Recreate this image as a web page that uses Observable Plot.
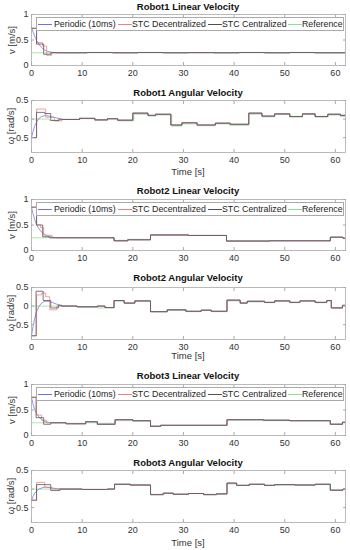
<!DOCTYPE html>
<html><head><meta charset="utf-8">
<script src="https://cdn.jsdelivr.net/npm/d3@7"></script>
<script src="https://cdn.jsdelivr.net/npm/@observablehq/plot@0.6"></script>
<style>
body{margin:0;background:#fff;font-family:"Liberation Sans",Arial,sans-serif;}
#wrap{position:relative;width:350px;height:550px;overflow:hidden;background:#fff;}
.panel{position:absolute;left:0;}
.title{position:absolute;left:31px;width:314px;text-align:center;font-weight:bold;font-size:9.5px;line-height:10px;color:#111;}
.xlab{position:absolute;left:31px;width:314px;text-align:center;font-size:9.5px;line-height:10px;color:#333;}
.ylab{position:absolute;width:80px;height:10px;line-height:10px;text-align:center;font-size:9.5px;color:#333;transform:rotate(-90deg);}
.legend{position:absolute;left:36px;width:306px;height:12px;border:0.8px solid #aaa;background:#fff;font-size:8.8px;color:#222;}
.legend .ln{position:absolute;top:6px;width:14px;height:0;border-top:1px solid;}
.legend .tx{position:absolute;top:0px;line-height:12px;white-space:nowrap;}
</style>
</head><body><div id="wrap"></div>
<script>
const xTicks = [0, 10, 20, 30, 40, 50, 60];
const linTicks = [0, 0.5, 1];
const angTicks = [-0.5, 0, 0.5];
const seriesNames = ["Periodic (10ms)", "STC Decentralized", "STC Centralized", "Reference"];
const seriesColors = ["#7070ea", "#f08080", "#505050", "#8ee08e"];
const titles = ["Robot1 Linear Velocity", "Robot1 Angular Velocity", "Robot2 Linear Velocity", "Robot2 Angular Velocity", "Robot3 Linear Velocity", "Robot3 Angular Velocity"];

// Robot1 linear
const r1v_perT = [0,0.3,0.6,1,1.5,2,2.5,3,3.5,4,5];
const r1v_perV = [0.75,0.66,0.58,0.49,0.41,0.35,0.31,0.285,0.27,0.26,0.252];
const r1v_decT = [0,1,2.2,3,4];
const r1v_decV = [0.73,0.45,0.38,0.2,0.25];
const r1v_cenT = [0,1,2.4,3.8];
const r1v_cenV = [0.73,0.42,0.22,0.25];
const r1v_tailT = [6,11,16,21,26,31,36,41,46,51,56];
const r1v_tailV = [0.25,0.255,0.25,0.255,0.25,0.253,0.25,0.255,0.25,0.255,0.25];
const r1v_refT = [0];
const r1v_refV = [0.25];

// Robot1 angular
const r1w_perT = [0,0.3,0.6,1,1.5,2,2.5,3,3.5,4,5,5.8];
const r1w_perV = [-0.5,-0.33,-0.2,-0.08,0.02,0.07,0.09,0.09,0.08,0.06,0.03,0.0];
const r1w_decT = [0,1,2.8,4.5];
const r1w_decV = [-0.5,0.27,0.05,-0.05];
const r1w_cenT = [0,1,2.6,3.8,5.4];
const r1w_cenV = [-0.5,0.18,0.15,-0.04,0.0];
const r1w_tailT = [6,9.5,12.5,15,17,20,23,24.5,27.5,29.7,32.7,36.3,39.2,42.9,45.5,48,51,53.5,56,58.5,61];
const r1w_tailV = [-0.01,0.02,-0.02,0.01,-0.03,0.16,0.1,0.13,-0.16,-0.1,-0.16,-0.11,-0.14,0.16,0.08,0.14,0.07,0.14,0.07,0.13,0.1];
const r1w_refT = [0,3.5,6,9.5,12.5,15,17,20.2,23,24.5,27.7,29.7,32.7,36.3,39.2,42.9,45.5,48,51,53.5,56,58.5,61];
const r1w_refV = [0,-0.03,-0.01,0.01,-0.04,0.0,-0.05,0.13,0.08,0.11,-0.19,-0.13,-0.18,-0.13,-0.17,0.13,0.06,0.12,0.05,0.12,0.05,0.11,0.07];

// Robot2 linear
const r2v_perT = [0,0.3,0.6,1,1.5,2,2.5,3,3.5,4,4.5];
const r2v_perV = [0.85,0.72,0.62,0.5,0.42,0.36,0.32,0.29,0.275,0.265,0.257];
const r2v_decT = [0,1,1.8,2.4,4];
const r2v_decV = [0.85,0.5,0.45,0.3,0.25];
const r2v_cenT = [0,1,2.2,3.5];
const r2v_cenV = [0.85,0.5,0.27,0.25];
const r2v_tailT = [5,16.3,19,23.5,31,38.5,47,59,61.5];
const r2v_tailV = [0.25,0.19,0.21,0.305,0.295,0.185,0.19,0.26,0.24];
const r2v_refT = [0,16.3,19,23.5,31,38.5,47,59,61.5];
const r2v_refV = [0.25,0.2,0.22,0.3,0.295,0.19,0.195,0.265,0.245];

// Robot2 angular
const r2w_perT = [0,0.3,0.6,1,1.5,2,2.5,3,3.5,4,5,5.8];
const r2w_perV = [-0.8,-0.55,-0.35,-0.15,0.0,0.08,0.12,0.13,0.12,0.1,0.05,0.02];
const r2w_decT = [0,1,2,2.8,3.6,5];
const r2w_decV = [-0.8,0.3,0.35,0.25,-0.1,0];
const r2w_cenT = [0,0.9,2.3,3.8,5.3];
const r2w_cenV = [-0.8,0.4,0.15,-0.05,0.02];
const r2w_tailT = [6,9,13,14.5,16.3,18.3,20.4,23.5,26.8,30.5,33.5,35.5,38.6,41.2,42.6,46,48,51,53,56,58.3,59.2,61.4];
const r2w_tailV = [0,-0.02,0.0,-0.04,0.15,0.08,0.14,-0.15,-0.1,-0.14,-0.11,-0.14,0.16,0.08,0.13,0.1,0.14,0.1,0.14,0.1,0.15,-0.05,0.02];
const r2w_refT = [0,9,13,16.3,18.3,20.4,23.5,26.8,30.5,33.5,35.5,38.6,41.2,42.6,46,48,51,53,56,58.3,59.2,61.4];
const r2w_refV = [0,-0.02,-0.05,0.13,0.08,0.12,-0.16,-0.12,-0.15,-0.12,-0.15,0.14,0.09,0.11,0.09,0.12,0.09,0.12,0.09,0.13,-0.04,0.01];

// Robot3 linear
const r3v_perT = [0,0.3,0.6,1,1.5,2,2.5,3,3.5,4,4.5];
const r3v_perV = [0.75,0.62,0.52,0.43,0.36,0.31,0.28,0.265,0.255,0.25,0.25];
const r3v_decT = [0,1,2,3,4.2];
const r3v_decV = [0.75,0.4,0.3,0.25,0.25];
const r3v_cenT = [0,0.9,2.4,3.8];
const r3v_cenV = [0.75,0.35,0.22,0.25];
const r3v_tailT = [5,6.8,10.7,13,16.5,20,23.5,25.5,38.6,45.8,51,59,61.4];
const r3v_tailV = [0.25,0.23,0.27,0.22,0.31,0.29,0.18,0.2,0.31,0.3,0.29,0.22,0.26];
const r3v_refT = [0,6.8,10.7,13,16.5,20,23.5,25.5,38.6,45.8,51,59,61.4];
const r3v_refV = [0.25,0.24,0.25,0.24,0.29,0.28,0.19,0.2,0.3,0.29,0.29,0.23,0.25];

// Robot3 angular
const r3w_perT = [0,0.3,0.6,1,1.5,2,2.5,3,3.5,4,5,5.8];
const r3w_perV = [-0.3,-0.2,-0.12,-0.05,0,0.03,0.05,0.05,0.04,0.03,0.01,0];
const r3w_decT = [0,1,2.6,4];
const r3w_decV = [-0.3,0.18,0.05,0];
const r3w_cenT = [0,1,3.8,5.6];
const r3w_cenV = [-0.3,0.12,-0.04,0];
const r3w_tailT = [6,10,15,16.4,19.5,23.5,26,28,31,34,36.5,38.6,40.5,43,46,48,52,56,59,61.5];
const r3w_tailV = [0,-0.01,0,0.13,0.11,-0.15,-0.11,-0.14,-0.12,-0.15,-0.13,0.16,0.1,0.13,0.1,0.12,0.11,0.13,-0.03,0.0];
const r3w_refT = [0,10,15,16.4,19.5,23.5,26,28,31,34,36.5,38.6,40.5,43,46,48,52,56,59,61.5];
const r3w_refV = [0,-0.01,0,0.12,0.1,-0.14,-0.12,-0.13,-0.12,-0.14,-0.13,0.14,0.1,0.12,0.1,0.11,0.1,0.12,-0.03,0.0];

const T_END = 62;

function stepPts(T, V, tEnd) {
  const pts = [];
  for (let i = 0; i < T.length; i++) {
    const t1 = i + 1 < T.length ? T[i + 1] : tEnd;
    pts.push({t: T[i], v: V[i]});
    pts.push({t: t1, v: V[i]});
  }
  return pts;
}
function smoothPts(T, V) { return T.map((t, i) => ({t, v: V[i]})); }

function buildPanel(p) {
  const per = smoothPts(p.perT, p.perV).concat(stepPts(p.tailT, p.tailV, T_END));
  const dec = stepPts(p.decT.concat(p.tailT), p.decV.concat(p.tailV), T_END);
  const cen = stepPts(p.cenT.concat(p.tailT), p.cenV.concat(p.tailV), T_END);
  const ref = stepPts(p.refT, p.refV, T_END);
  return [ref, per, dec, cen];
}

const panels = [
  {top: 14, h: 51, dom: [0, 1], ticks: linTicks, ylab: "v [m/s]", legend: true, xlab: null, titleY: 7,
   perT: r1v_perT, perV: r1v_perV, decT: r1v_decT, decV: r1v_decV, cenT: r1v_cenT, cenV: r1v_cenV, tailT: r1v_tailT, tailV: r1v_tailV, refT: r1v_refT, refV: r1v_refV},
  {top: 100, h: 52, dom: [-0.9, 0.5], ticks: angTicks, ylab: "\u03c9 [rad/s]", legend: false, xlab: 172, titleY: 93,
   perT: r1w_perT, perV: r1w_perV, decT: r1w_decT, decV: r1w_decV, cenT: r1w_cenT, cenV: r1w_cenV, tailT: r1w_tailT, tailV: r1w_tailV, refT: r1w_refT, refV: r1w_refV},
  {top: 199, h: 51, dom: [0, 1], ticks: linTicks, ylab: "v [m/s]", legend: true, xlab: null, titleY: 191,
   perT: r2v_perT, perV: r2v_perV, decT: r2v_decT, decV: r2v_decV, cenT: r2v_cenT, cenV: r2v_cenV, tailT: r2v_tailT, tailV: r2v_tailV, refT: r2v_refT, refV: r2v_refV},
  {top: 286.5, h: 52, dom: [-0.9, 0.5], ticks: angTicks, ylab: "\u03c9 [rad/s]", legend: false, xlab: 356, titleY: 278,
   perT: r2w_perT, perV: r2w_perV, decT: r2w_decT, decV: r2w_decV, cenT: r2w_cenT, cenV: r2w_cenV, tailT: r2w_tailT, tailV: r2w_tailV, refT: r2w_refT, refV: r2w_refV},
  {top: 384, h: 51, dom: [0, 1], ticks: linTicks, ylab: "v [m/s]", legend: true, xlab: null, titleY: 376,
   perT: r3v_perT, perV: r3v_perV, decT: r3v_decT, decV: r3v_decV, cenT: r3v_cenT, cenV: r3v_cenV, tailT: r3v_tailT, tailV: r3v_tailV, refT: r3v_refT, refV: r3v_refV},
  {top: 470, h: 52, dom: [-0.9, 0.5], ticks: angTicks, ylab: "\u03c9 [rad/s]", legend: false, xlab: 543, titleY: 463,
   perT: r3w_perT, perV: r3w_perV, decT: r3w_decT, decV: r3w_decV, cenT: r3w_cenT, cenV: r3w_cenV, tailT: r3w_tailT, tailV: r3w_tailV, refT: r3w_refT, refV: r3w_refV}
];

const wrap = document.getElementById("wrap");
const MT = 3, MB = 14;
const drawOrder = [3, 0, 1, 2]; // color index for [ref, per, dec, cen]

panels.forEach((p, k) => {
  const sets = buildPanel(p);
  const chart = Plot.plot({
    width: 350, height: MT + p.h + MB,
    marginTop: MT, marginBottom: MB, marginLeft: 31, marginRight: 5,
    style: {fontFamily: "'Liberation Sans', Arial, sans-serif", fontSize: "9px", color: "#333", background: "transparent", overflow: "visible"},
    x: {domain: [0, T_END]},
    y: {domain: p.dom},
    marks: [
      ...sets.map((d, i) => Plot.line(d, {x: "t", y: "v", stroke: seriesColors[drawOrder[i]], strokeWidth: 0.75, clip: true})),
      Plot.frame({stroke: "#aaaaaa", strokeWidth: 0.8}),
      Plot.axisX({ticks: xTicks, tickSize: -3, tickPadding: 7, label: null, stroke: "#aaaaaa", tickFormat: d => String(d)}),
      Plot.axisX({anchor: "top", ticks: xTicks, tickSize: -3, label: null, stroke: "#aaaaaa", tickFormat: () => ""}),
      Plot.axisY({ticks: p.ticks, tickSize: -3, tickPadding: 6, label: null, stroke: "#aaaaaa", tickFormat: d => String(d)}),
      Plot.axisY({anchor: "right", ticks: p.ticks, tickSize: -3, label: null, stroke: "#aaaaaa", tickFormat: () => ""})
    ]
  });
  chart.classList.add("panel");
  chart.style.top = (p.top - MT) + "px";
  wrap.appendChild(chart);

  const t = document.createElement("div");
  t.className = "title"; t.textContent = titles[k];
  t.style.top = (p.titleY - 5) + "px";
  wrap.appendChild(t);

  const yl = document.createElement("div");
  yl.className = "ylab"; yl.textContent = p.ylab;
  const cx = k % 2 === 0 ? 12 : 10.5;
  yl.style.left = (cx - 40) + "px";
  yl.style.top = (p.top + p.h / 2 - 5) + "px";
  wrap.appendChild(yl);

  if (p.xlab) {
    const xl = document.createElement("div");
    xl.className = "xlab"; xl.textContent = "Time [s]";
    xl.style.top = (p.xlab - 5) + "px";
    wrap.appendChild(xl);
  }
  if (p.legend) {
    const lg = document.createElement("div");
    lg.className = "legend";
    lg.style.top = (p.top + 2.5) + "px";
    const lnX = [1, 81, 171, 251], txX = [17, 95, 185, 265];
    seriesNames.forEach((nm, i) => {
      const ln = document.createElement("div");
      ln.className = "ln"; ln.style.left = lnX[i] + "px"; ln.style.borderTopColor = seriesColors[i];
      lg.appendChild(ln);
      const tx = document.createElement("div");
      tx.className = "tx"; tx.style.left = txX[i] + "px"; tx.textContent = nm;
      lg.appendChild(tx);
    });
    wrap.appendChild(lg);
  }
});
</script>
</body></html>
